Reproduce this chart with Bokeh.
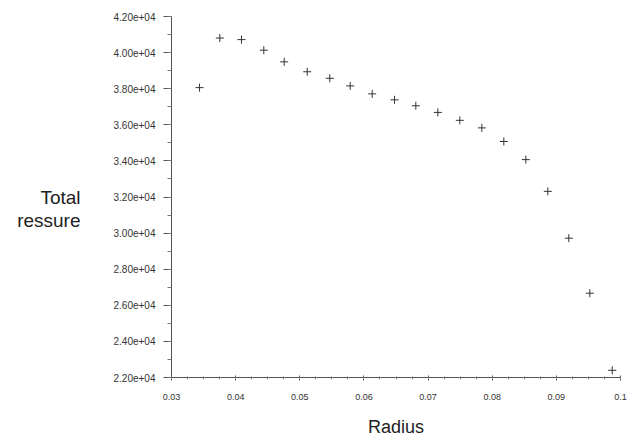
from bokeh.plotting import figure
from bokeh.models import FixedTicker, Range1d
from bokeh.embed import file_html
from bokeh.resources import INLINE

# Data
radius = [0.03437, 0.03753, 0.04091, 0.04439, 0.04757, 0.05116, 0.05468,
          0.05786, 0.06129, 0.06477, 0.06809, 0.07152, 0.07495, 0.07838,
          0.08181, 0.08524, 0.08867, 0.09194, 0.09522, 0.09871]
pressure = [38060, 40808, 40720, 40132, 39489, 38939, 38577, 38154, 37714,
            37384, 37055, 36686, 36247, 35829, 35077, 34071, 32312, 29719,
            26669, 22399]

x_ticks = [0.03, 0.04, 0.05, 0.06, 0.07, 0.08, 0.09, 0.1]
x_tick_labels = ["0.03", "0.04", "0.05", "0.06", "0.07", "0.08", "0.09", "0.1"]
x_minor = [round(0.03 + i * 0.0025, 4) for i in range(29)]
y_ticks = [22000, 24000, 26000, 28000, 30000, 32000, 34000, 36000, 38000, 40000, 42000]
y_tick_labels = ["%.2e" % v for v in y_ticks]
y_minor = [22000 + i * 1000 for i in range(21)]

p = figure(width=627, height=439, output_backend="svg", toolbar_location=None,
           x_range=Range1d(0.03, 0.1), y_range=Range1d(22000, 42000),
           min_border_left=171, min_border_right=7, min_border_top=16,
           min_border_bottom=59)
p.outline_line_color = None
p.xgrid.visible = False
p.ygrid.visible = False
p.background_fill_color = "white"
p.border_fill_color = "white"

p.scatter(radius, pressure, marker="cross", size=8, line_color="#333333",
          line_width=1)

font = "Liberation Sans"

xa = p.xaxis[0]
xa.ticker = FixedTicker(ticks=x_ticks, minor_ticks=x_minor)
xa.major_label_overrides = {t: l for t, l in zip(x_ticks, x_tick_labels)}
xa.axis_label = "Radius"
xa.axis_label_text_font = font
xa.axis_label_text_font_style = "normal"
xa.axis_label_text_font_size = "18px"
xa.axis_label_text_color = "#222222"
xa.axis_label_standoff = 14
xa.major_label_text_font = font
xa.major_label_text_font_size = "9px"
xa.major_label_text_color = "#333333"
xa.major_label_standoff = 13
xa.major_tick_in = 2
xa.major_tick_out = 3
xa.minor_tick_in = 1
xa.minor_tick_out = 2
xa.axis_line_color = "#555555"
xa.major_tick_line_color = "#555555"
xa.minor_tick_line_color = "#777777"

ya = p.yaxis[0]
ya.ticker = FixedTicker(ticks=y_ticks, minor_ticks=y_minor)
ya.major_label_overrides = {t: l for t, l in zip(y_ticks, y_tick_labels)}
ya.major_label_text_font = font
ya.major_label_text_font_size = "10px"
ya.major_label_text_color = "#333333"
ya.major_label_standoff = 8
ya.major_tick_in = 0
ya.major_tick_out = 8
ya.minor_tick_in = 0
ya.minor_tick_out = 4
ya.axis_line_color = "#555555"
ya.major_tick_line_color = "#555555"
ya.minor_tick_line_color = "#777777"
ya.axis_label = "\nTotal\nressure"
ya.axis_label_orientation = "horizontal"
ya.axis_label_text_font = font
ya.axis_label_text_font_style = "normal"
ya.axis_label_text_font_size = "19px"
ya.axis_label_text_color = "#222222"
ya.axis_label_text_line_height = 1.1
ya.axis_label_standoff = 30

open("out.html", "w").write(file_html(p, INLINE))
